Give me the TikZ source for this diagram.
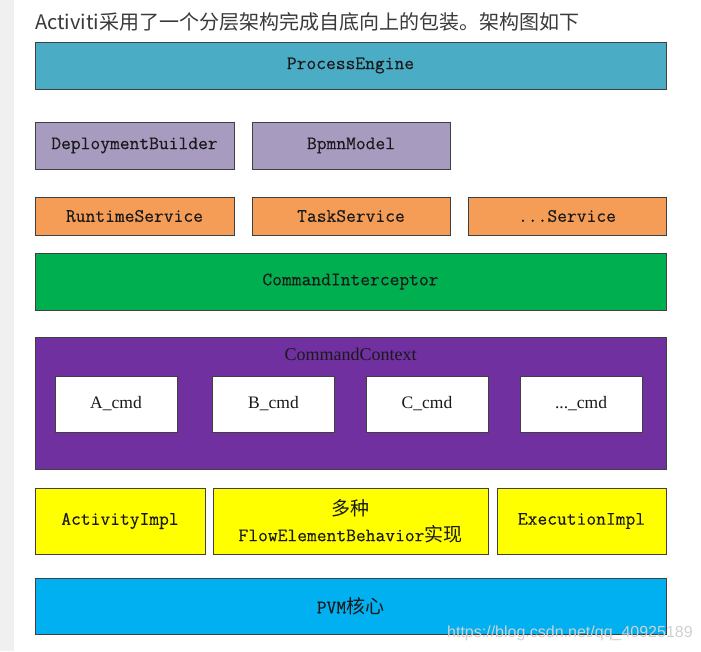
\documentclass[tikz,border=0pt]{standalone}
\usepackage{fontspec}
\newfontfamily\cjk{Noto Sans CJK SC}
\newfontfamily\romanfont{Liberation Serif}
\newfontfamily\markfont{Liberation Sans}
\newfontfamily\boxfont{Latin Modern Mono}[FakeBold=0.3]
\usetikzlibrary{positioning}

\definecolor{edgecol}{HTML}{404040}
\definecolor{enginecol}{HTML}{4BACC6}
\definecolor{modelcol}{HTML}{A89BC0}
\definecolor{servicecol}{HTML}{F59D56}
\definecolor{interceptcol}{HTML}{00B050}
\definecolor{contextcol}{HTML}{7030A0}
\definecolor{implcol}{HTML}{FFFF00}
\definecolor{pvmcol}{HTML}{00B0F0}
\definecolor{captioncol}{HTML}{3A3A3A}
\definecolor{stripcol}{HTML}{F0F0F0}

\begin{document}
\begin{tikzpicture} [x = 1pt, y = -1pt, node distance = 18pt,
    layer/.style = {draw = edgecol, line width = 1pt, inner sep = 0pt, outer sep = 0pt,
        text = black!90, font = \fontsize{19}{26}\selectfont\boxfont},
    cmdbox/.style = {layer, fill = white, minimum width = 122pt, minimum height = 56pt,
        font = \fontsize{17.5}{22}\selectfont\romanfont}]
        \useasboundingbox (0,0) rectangle (701,651);
        \fill [white] (0,0) rectangle (701,651);
        \fill [stripcol] (0,0) rectangle (14,651);

        \node [anchor = west, text = captioncol, inner sep = 0pt, font = \fontsize{20}{24}\selectfont\cjk] (caption) at (35,22) {Activiti采用了一个分层架构完成自底向上的包装。架构图如下};

        \node [layer, fill = enginecol, minimum width = 631pt, minimum height = 47pt] (engine) at (350.5,65.5) {ProcessEngine};

        \node [layer, fill = modelcol, minimum width = 199pt, minimum height = 47pt] (deploy) at (134.5,145.5) {DeploymentBuilder};
        \node [layer, fill = modelcol, minimum width = 198pt, minimum height = 47pt] (bpmn) [right = of deploy] {BpmnModel};

        \node [layer, fill = servicecol, minimum width = 199pt, minimum height = 38pt] (runtime) at (134.5,216) {RuntimeService};
        \node [layer, fill = servicecol, minimum width = 198pt, minimum height = 38pt] (task) [right = of runtime] {TaskService};
        \node [layer, fill = servicecol, minimum width = 198pt, minimum height = 38pt] (moresvc) [right = of task] {...Service};

        \node [layer, fill = interceptcol, minimum width = 631pt, minimum height = 57pt] (intercept) at (350.5,281.5) {CommandInterceptor};

        \node [layer, fill = contextcol, minimum width = 631pt, minimum height = 132pt] (context) at (350.5,403) {};
        \node [anchor = north, inner sep = 0pt, text = black!90, font = \fontsize{18}{22}\selectfont\romanfont] (ctxlabel) at ([yshift = -11pt] context.north) {CommandContext};

        \node [cmdbox] (acmd) at (116,404) {A\_cmd};
        \node [cmdbox] (bcmd) at (273.5,404) {B\_cmd};
        \node [cmdbox] (ccmd) at (427,404) {C\_cmd};
        \node [cmdbox] (morecmd) at (581,404) {...\_cmd};

        \node [layer, fill = implcol, minimum width = 170pt, minimum height = 66pt] (activity) at (120,521) {ActivityImpl};
        \node [layer, fill = implcol, minimum width = 275pt, minimum height = 66pt, align = center] (behavior) at (350.5,521) {{\cjk 多种}\\FlowElementBehavior{\cjk 实现}};
        \node [layer, fill = implcol, minimum width = 169pt, minimum height = 66pt] (execution) at (581.5,521) {ExecutionImpl};

        \node [layer, fill = pvmcol, minimum width = 631pt, minimum height = 56pt] (pvm) at (350.5,606) {PVM{\cjk 核心}};

        \node [anchor = west, inner sep = 0pt, text = black!18, font = \fontsize{16}{18}\selectfont\markfont] (mark) at (447,633) {https://blog.csdn.net/qq\_40925189};
    \end{tikzpicture}
\end{document}
